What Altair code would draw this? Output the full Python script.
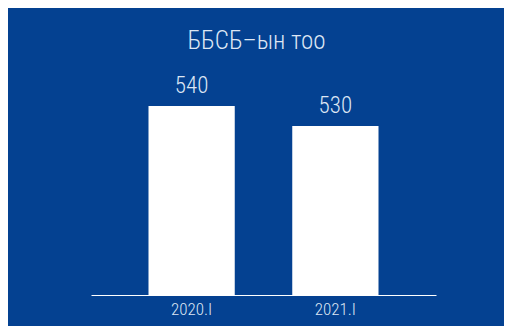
import altair as alt
import pandas as pd

categories = ["2020.I", "2021.I"]
values = [540, 530]
title_text = "ББСБ–ын тоо"

df = pd.DataFrame({"period": categories, "count": values})

FONT = ("Roboto Condensed, Noto Sans Condensed, Open Sans Condensed, "
        "Liberation Sans Narrow, Arial Narrow, DejaVu Sans Condensed, sans-serif")
TXT = "#dde6f4"
BG = "#044191"

base = alt.Chart(df).encode(
    x=alt.X("period:N", sort=categories,
            scale=alt.Scale(paddingInner=0.4, paddingOuter=0.4),
            axis=alt.Axis(title=None, labelAngle=0, domainColor="#ffffff",
                          domainWidth=1, ticks=False, labelColor=TXT,
                          labelFont=FONT, labelFontSize=17, labelFontWeight=300,
                          labelPadding=6)),
    y=alt.Y("count:Q", scale=alt.Scale(domain=[445.5, 565.5], zero=False, nice=False),
            axis=None),
)

bars = base.mark_bar(color="#ffffff", clip=True)
labels = base.mark_text(dy=-13, baseline="alphabetic", fontSize=23, fontWeight=300,
                        font=FONT, color=TXT).encode(text=alt.Text("count:Q"))

chart = (bars + labels).properties(
    width=345, height=240,
    autosize=alt.AutoSizeParams(type="none"),
    padding={"left": 83, "right": 68, "top": 47, "bottom": 31},
    background=BG,
    title=alt.Title(title_text, anchor="middle", frame="group", font=FONT,
                    fontSize=25, fontWeight=300, color=TXT, dx=-7, offset=1),
).configure_view(stroke=None)

chart.save("out.html", embed_options={"renderer": "svg", "actions": False})
